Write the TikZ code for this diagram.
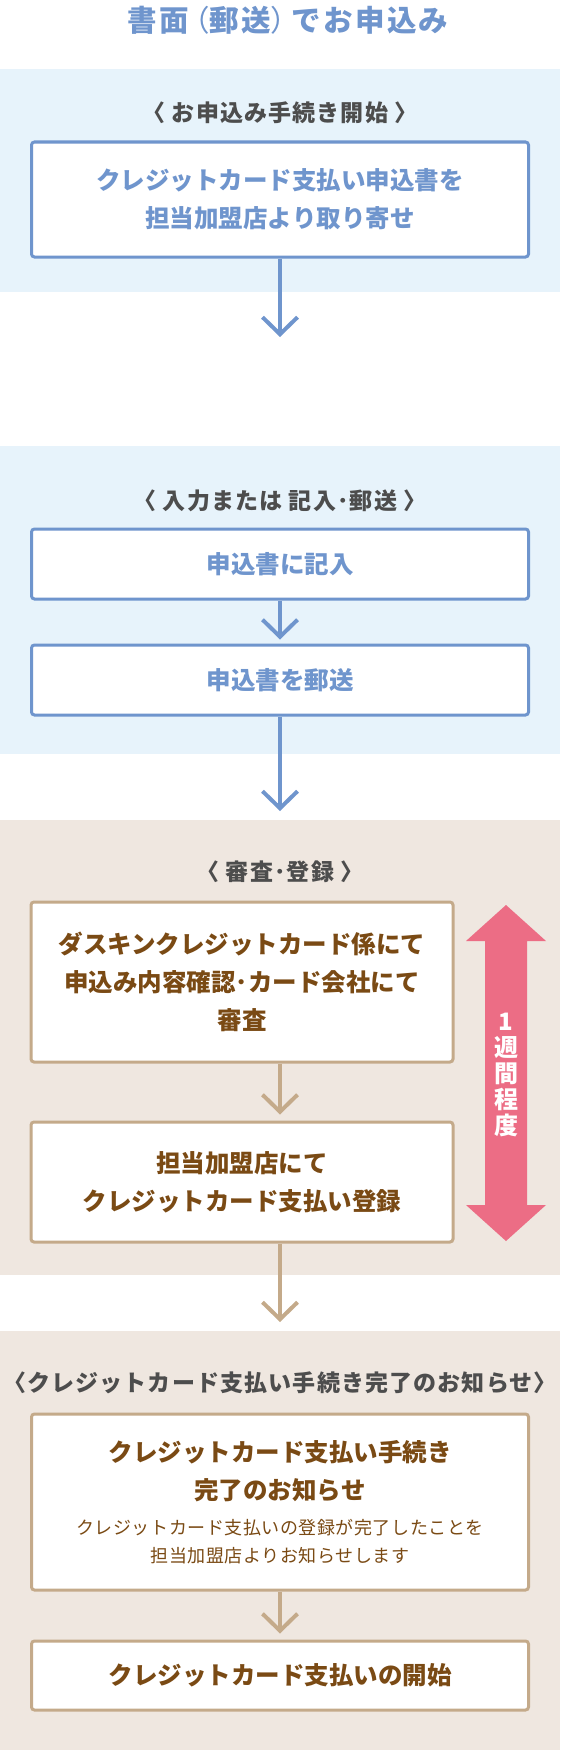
\documentclass[tikz,border=0pt]{standalone}
\usepackage{fontspec}
\setmainfont{Noto Sans CJK JP}
\usetikzlibrary{arrows.meta}
\definecolor{blueline}{RGB}{111,149,205}
\definecolor{bluebg}{RGB}{231,243,251}
\definecolor{graytxt}{RGB}{77,77,77}
\definecolor{beigebg}{RGB}{239,231,224}
\definecolor{beigeline}{RGB}{196,170,138}
\definecolor{browntxt}{RGB}{122,74,20}
\definecolor{pinkarrow}{RGB}{236,109,133}
\newcommand{\lparen}{{\mdseries\hspace{-0.3em}（}}
\newcommand{\rparen}{{\mdseries）\hspace{-0.3em}}}
\begin{document}
\begin{tikzpicture}[x=1pt,y=-1pt,
  head/.style={text=graytxt,font=\fontsize{23}{26}\selectfont\bfseries\addfontfeatures{LetterSpace=5}},
  bluebox/.style={draw=blueline,line width=3pt,rounded corners=3pt,fill=white,
    minimum width=497pt,align=center,text=blueline,
    font=\fontsize{24.5}{38}\selectfont\bfseries},
  beigebox/.style={bluebox,draw=beigeline,text=browntxt},
  bluearrow/.style={draw=blueline,line width=4pt,-{Straight Barb[length=17pt,width=35pt]}},
  beigearrow/.style={bluearrow,draw=beigeline}]
  \useasboundingbox (0,0) rectangle (560,1750);
  % bands
  \fill[bluebg] (0,69) rectangle (560,292);
  \fill[bluebg] (0,446) rectangle (560,754);
  \fill[beigebg] (0,820) rectangle (560,1275);
  \fill[beigebg] (0,1331) rectangle (560,1750);
  \coordinate (mid) at (280,0);

  \node[text=blueline,font=\fontsize{29.5}{32}\selectfont\bfseries\addfontfeatures{LetterSpace=8}] (title) at (288,20) {書面\lparen 郵送\rparen でお申込み};

  % start
  \node[head] (head1) at (280,113) {〈 お申込み手続き開始 〉};
  \node[bluebox,minimum height=115pt] (order) at (280,199.5) {クレジットカード支払い申込書を\\担当加盟店より取り寄せ};
  \coordinate (c1) at (280,337);
  \draw[bluearrow] (order.south) -- (c1);

  % fill in and mail
  \node[head] (head2) at (280,501) {〈 入力または 記入･郵送 〉};
  \node[bluebox,minimum height=70pt] (fill) at (280,564) {申込書に記入};
  \node[bluebox,minimum height=70pt] (mail) at (280,680) {申込書を郵送};
  \coordinate (c3) at (280,811);
  \draw[bluearrow,shorten >=4pt] (fill) -- (mail);
  \draw[bluearrow] (mail.south) -- (c3);

  % check and register
  \node[head] (head3) at (280,872) {〈 審査･登録 〉};
  \node[beigebox,minimum width=422pt,minimum height=160pt] (check) at (242,982) {ダスキンクレジットカード係にて\\申込み内容確認･カード会社にて\\審査};
  \node[beigebox,minimum width=422pt,minimum height=120pt] (regist) at (242,1182) {担当加盟店にて\\クレジットカード支払い登録};
  \draw[beigearrow,shorten >=6pt] (check.south -| mid) -- (regist.north -| mid);
  \coordinate (c5) at (280,1322);
  \draw[beigearrow] (regist.south -| mid) -- (c5);

  % one week
  \fill[pinkarrow] (506,905) -- (546,941) -- (527,941) -- (527,1205) -- (546,1205)
    -- (506,1241) -- (466,1205) -- (485,1205) -- (485,941) -- (466,941) -- cycle;
  \node[text=white,align=center,font=\fontsize{24}{26}\selectfont\bfseries] (week) at (506,1075) {1\\週\\間\\程\\度};

  % finish
  \node[head] (head4) at (280,1383) {〈クレジットカード支払い手続き完了のお知らせ〉};
  \node[beigebox,minimum height=176pt] (notice) at (280,1502) {クレジットカード支払い手続き\\完了のお知らせ\\[-3pt]
    \fontsize{18}{28}\selectfont\mdseries\addfontfeatures{LetterSpace=3}クレジットカード支払いの登録が完了したことを\\[-10pt]
    \fontsize{18}{28}\selectfont\mdseries\addfontfeatures{LetterSpace=3}担当加盟店よりお知らせします};
  \node[beigebox,minimum height=69pt] (start) at (280,1675.5) {クレジットカード支払いの開始};
  \draw[beigearrow,shorten >=6pt] (notice) -- (start);
\end{tikzpicture}
\end{document}
